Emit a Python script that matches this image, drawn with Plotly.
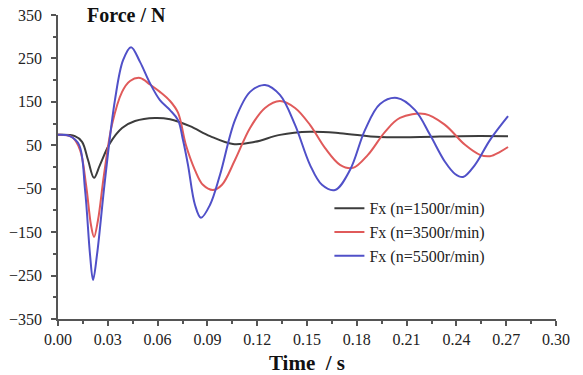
import plotly.graph_objects as go

# Time (s) and force (N) samples
t_1500 = [0.0, 0.0102, 0.0145, 0.0181, 0.0217, 0.0253, 0.0313, 0.0386, 0.0464, 0.0584,
          0.0675, 0.0795, 0.0916, 0.1054, 0.1187, 0.1337, 0.1518, 0.1699, 0.194, 0.2181,
          0.2422, 0.2711]
f_1500 = [74, 71, 58, 16, -25, 5, 55, 90, 106, 113,
          110, 94, 71, 53, 58, 74, 81, 78, 69, 69,
          71, 71]

t_3500 = [0.0, 0.0084, 0.0133, 0.0169, 0.0199, 0.0217, 0.0241, 0.0277, 0.0325, 0.0386,
          0.0434, 0.0494, 0.0554, 0.0614, 0.0675, 0.0723, 0.0771, 0.0825, 0.0873, 0.0934,
          0.0988, 0.1066, 0.1157, 0.1247, 0.1337, 0.1428, 0.1518, 0.1608, 0.1699, 0.1777,
          0.1867, 0.197, 0.206, 0.2211, 0.2331, 0.2452, 0.2542, 0.2602, 0.2663, 0.2711]
f_3500 = [74, 69, 39, -41, -134, -161, -122, -18, 97, 173,
          198, 205, 190, 173, 152, 125, 50, -7, -41, -53,
          -41, 16, 90, 136, 152, 136, 97, 44, 5, -2,
          28, 81, 113, 122, 97, 51, 28, 25, 35, 46]

t_5500 = [0.0, 0.0072, 0.0127, 0.0163, 0.0193, 0.0211, 0.0235, 0.0283, 0.0343, 0.0392,
          0.044, 0.0494, 0.0554, 0.0614, 0.0675, 0.0723, 0.0753, 0.0783, 0.0825, 0.0861,
          0.0916, 0.0976, 0.1066, 0.1157, 0.1247, 0.1337, 0.1428, 0.1518, 0.159, 0.1669,
          0.1759, 0.1849, 0.194, 0.2042, 0.2151, 0.2241, 0.2331, 0.2392, 0.244, 0.2512,
          0.2602, 0.2711]
f_5500 = [74, 71, 51, -53, -202, -260, -202, -30, 154, 246,
          276, 242, 193, 154, 131, 108, 62, 5, -87, -117,
          -87, -18, 108, 173, 189, 166, 97, 5, -41, -53,
          -7, 85, 145, 159, 131, 74, 12, -16, -23, 5,
          62, 117]

series_names = ["Fx (n=1500r/min)", "Fx (n=3500r/min)", "Fx (n=5500r/min)"]
series_colors = ["#3c3c3c", "#e05a5a", "#5050c8"]

x_ticks = [0.0, 0.03, 0.06, 0.09, 0.12, 0.15, 0.18, 0.21, 0.24, 0.27, 0.30]
x_tick_labels = ["0.00", "0.03", "0.06", "0.09", "0.12", "0.15", "0.18", "0.21", "0.24", "0.27", "0.30"]
y_ticks = [350, 250, 150, 50, -50, -150, -250, -350]

serif = "Liberation Serif, Times New Roman, serif"

fig = go.Figure()
for t, f, name, col in zip([t_1500, t_3500, t_5500], [f_1500, f_3500, f_5500],
                           series_names, series_colors):
    fig.add_trace(go.Scatter(x=t, y=f, mode="lines", name=name,
                             line=dict(color=col, width=2, shape="spline", smoothing=1.0)))

fig.update_layout(
    width=583, height=375,
    margin=dict(l=58, r=27, t=15, b=56, autoexpand=False),
    paper_bgcolor="white", plot_bgcolor="white",
    font=dict(family=serif, size=16, color="#222"),
    showlegend=True,
    legend=dict(x=0.545, y=0.42, xanchor="left", yanchor="top",
                bgcolor="rgba(0,0,0,0)", font=dict(family=serif, size=16, color="#222"),
                tracegroupgap=0, itemwidth=30),
    xaxis=dict(range=[0, 0.30], tickvals=x_ticks, ticktext=x_tick_labels, automargin=False,
               showgrid=False, zeroline=False, showline=True, linecolor="#555", linewidth=1.5,
               ticks="outside", ticklen=5, tickcolor="#555", tickwidth=1.5,
               minor=dict(ticks="outside", ticklen=3, dtick=0.015, tick0=0, tickcolor="#555", showgrid=False),
               tickfont=dict(family=serif, size=16, color="#222"),
               title=dict(text="<b>Time  / s</b>", font=dict(family=serif, size=21, color="#111"), standoff=8)),
    yaxis=dict(range=[-350, 350], tickvals=y_ticks, automargin=False,
               showgrid=False, zeroline=False, showline=True, linecolor="#555", linewidth=1.5,
               ticks="outside", ticklen=5, tickcolor="#555", tickwidth=1.5,
               ticklabelstandoff=6,
               minor=dict(ticks="outside", ticklen=3, dtick=100, tick0=300, tickcolor="#555", showgrid=False),
               tickfont=dict(family=serif, size=16, color="#222")),
    annotations=[dict(text="<b>Force / N</b>", x=0.054, y=1.0, xref="paper", yref="paper",
                      xanchor="left", yanchor="middle", showarrow=False,
                      font=dict(family=serif, size=20, color="#111"))],
)

fig.write_html("out.html")
